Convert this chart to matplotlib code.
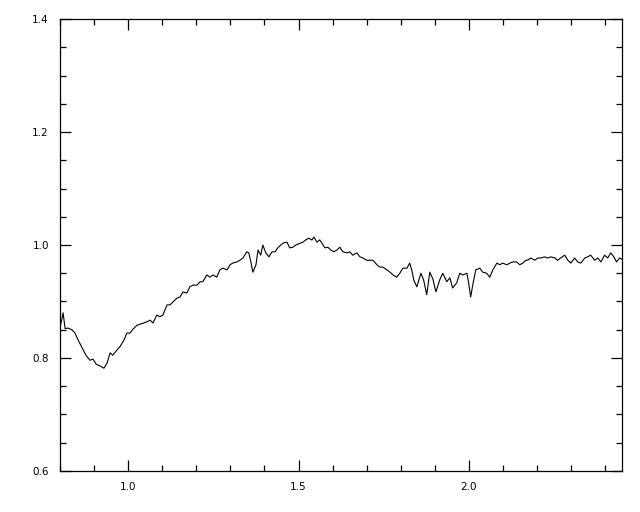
import matplotlib
matplotlib.use("Agg")
import matplotlib.pyplot as plt
from matplotlib.ticker import MultipleLocator

# wavelength (micron) and normalised flux
wave = [0.800, 0.806, 0.809, 0.815, 0.823, 0.835, 0.844, 0.853, 0.865, 0.876,
        0.888, 0.897, 0.906, 0.917, 0.929, 0.938, 0.947, 0.955, 0.967, 0.976,
        0.988, 0.996, 1.005, 1.014, 1.026, 1.035, 1.046, 1.055, 1.064, 1.073,
        1.084, 1.093, 1.102, 1.114, 1.123, 1.131, 1.143, 1.152, 1.161, 1.172,
        1.181, 1.190, 1.202, 1.211, 1.219, 1.231, 1.240, 1.249, 1.260, 1.269,
        1.278, 1.290, 1.299, 1.307, 1.319, 1.328, 1.337, 1.348, 1.354, 1.360,
        1.366, 1.375, 1.381, 1.389, 1.395, 1.404, 1.413, 1.422, 1.431, 1.439,
        1.448, 1.457, 1.466, 1.474, 1.483, 1.492, 1.504, 1.513, 1.521, 1.530,
        1.539, 1.545, 1.554, 1.562, 1.568, 1.577, 1.586, 1.595, 1.604, 1.612,
        1.621, 1.630, 1.642, 1.650, 1.659, 1.671, 1.680, 1.689, 1.700, 1.709,
        1.718, 1.730, 1.738, 1.747, 1.759, 1.768, 1.777, 1.788, 1.797, 1.806,
        1.818, 1.826, 1.832, 1.838, 1.847, 1.853, 1.859, 1.867, 1.876, 1.885,
        1.894, 1.903, 1.914, 1.923, 1.935, 1.944, 1.952, 1.964, 1.973, 1.982,
        1.994, 1.999, 2.005, 2.011, 2.020, 2.032, 2.040, 2.052, 2.061, 2.070,
        2.082, 2.090, 2.099, 2.111, 2.120, 2.128, 2.140, 2.149, 2.158, 2.167,
        2.172, 2.181, 2.193, 2.202, 2.211, 2.222, 2.231, 2.240, 2.252, 2.260,
        2.269, 2.281, 2.290, 2.299, 2.310, 2.319, 2.328, 2.340, 2.348, 2.357,
        2.369, 2.378, 2.387, 2.398, 2.407, 2.416, 2.425, 2.433, 2.442, 2.448]
flux = [0.855, 0.870, 0.880, 0.852, 0.853, 0.850, 0.844, 0.832, 0.818, 0.805,
        0.796, 0.798, 0.789, 0.786, 0.782, 0.791, 0.809, 0.805, 0.814, 0.820,
        0.832, 0.844, 0.844, 0.851, 0.858, 0.860, 0.862, 0.864, 0.867, 0.862,
        0.876, 0.873, 0.876, 0.894, 0.894, 0.899, 0.906, 0.908, 0.917, 0.915,
        0.926, 0.929, 0.929, 0.935, 0.935, 0.947, 0.943, 0.947, 0.943, 0.956,
        0.959, 0.956, 0.965, 0.968, 0.970, 0.973, 0.977, 0.988, 0.986, 0.970,
        0.952, 0.965, 0.991, 0.982, 1.000, 0.986, 0.979, 0.988, 0.988, 0.995,
        1.000, 1.004, 1.005, 0.995, 0.996, 1.000, 1.003, 1.005, 1.009, 1.012,
        1.009, 1.014, 1.005, 1.009, 1.004, 0.995, 0.996, 0.991, 0.988, 0.991,
        0.996, 0.988, 0.986, 0.988, 0.982, 0.986, 0.979, 0.977, 0.973, 0.973,
        0.973, 0.965, 0.961, 0.961, 0.956, 0.952, 0.947, 0.943, 0.950, 0.959,
        0.959, 0.968, 0.956, 0.938, 0.926, 0.938, 0.950, 0.938, 0.912, 0.952,
        0.940, 0.917, 0.938, 0.950, 0.935, 0.942, 0.924, 0.933, 0.950, 0.947,
        0.950, 0.933, 0.908, 0.929, 0.956, 0.959, 0.952, 0.950, 0.943, 0.956,
        0.968, 0.965, 0.968, 0.965, 0.968, 0.970, 0.970, 0.965, 0.968, 0.973,
        0.973, 0.977, 0.973, 0.977, 0.977, 0.979, 0.977, 0.979, 0.977, 0.973,
        0.977, 0.982, 0.973, 0.968, 0.977, 0.970, 0.968, 0.977, 0.979, 0.982,
        0.973, 0.977, 0.970, 0.982, 0.977, 0.986, 0.979, 0.970, 0.977, 0.975]

fig = plt.figure(figsize=(6.4, 5.12), dpi=100)
ax = fig.add_axes([60 / 640, 41 / 512, 562 / 640, 452 / 512])

ax.plot(wave, flux, color="black", linewidth=0.8)

ax.set_xlim(0.8, 2.449)
ax.set_ylim(0.6, 1.4)

# IDL-style ticks: inward on all four sides
ax.xaxis.set_major_locator(MultipleLocator(0.5))
ax.xaxis.set_minor_locator(MultipleLocator(0.1))
ax.yaxis.set_major_locator(MultipleLocator(0.2))
ax.yaxis.set_minor_locator(MultipleLocator(0.05))
ax.xaxis.set_major_formatter(plt.FormatStrFormatter("%.1f"))
ax.yaxis.set_major_formatter(plt.FormatStrFormatter("%.1f"))
ax.tick_params(which="both", direction="in", top=True, right=True,
               width=0.9, labelsize=7.5, pad=8)
ax.tick_params(which="major", length=8)
ax.tick_params(which="minor", length=4.3)
for s in ax.spines.values():
    s.set_linewidth(0.9)

fig.savefig("out.png", dpi=100)
